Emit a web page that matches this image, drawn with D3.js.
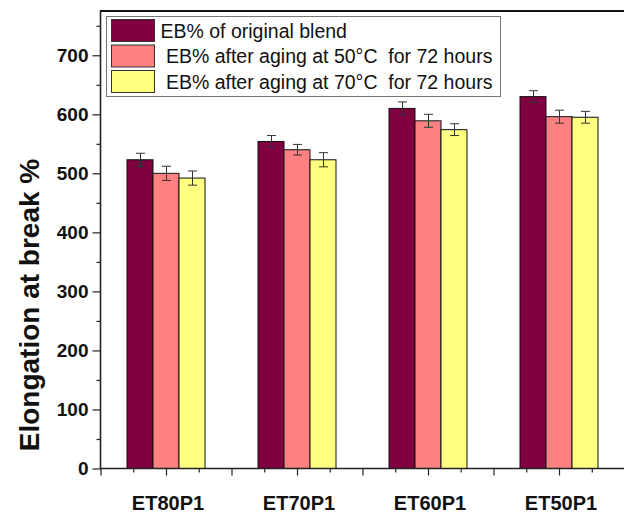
<!DOCTYPE html>
<html>
<head>
<meta charset="utf-8">
<script src="https://cdn.jsdelivr.net/npm/d3@7/dist/d3.min.js"></script>
<style>
  html, body { margin: 0; padding: 0; background: #fff; }
  svg { display: block; font-family: "Liberation Sans", Arial, sans-serif; }
</style>
</head>
<body>
<svg id="chart" width="624" height="513"></svg>
<script>
// Blend samples on the x axis
const categories = ["ET80P1", "ET70P1", "ET60P1", "ET50P1"];

// Elongation at break (%) for each blend
const originalBlend = [523, 554, 610, 630];
const aged50 = [500, 540, 589, 596];
const aged70 = [492, 523, 574, 595];

// Error bar half-heights
const originalErr = [11, 10, 11, 10];
const aged50Err = [12, 9, 11, 11];
const aged70Err = [12, 12, 10, 10];

const seriesNames = [
  "EB% of original blend",
  " EB% after aging at 50°C  for 72 hours",
  " EB% after aging at 70°C  for 72 hours"
];
const seriesColors = ["#800040", "#ff8080", "#ffff80"];

const yTicks = [0, 100, 200, 300, 400, 500, 600, 700];

const series = [
  { name: seriesNames[0], color: seriesColors[0], values: originalBlend, err: originalErr },
  { name: seriesNames[1], color: seriesColors[1], values: aged50, err: aged50Err },
  { name: seriesNames[2], color: seriesColors[2], values: aged70, err: aged70Err }
];

const svg = d3.select("#chart");

const plot = { left: 100.5, right: 624.5, top: 11, bottom: 468.5 };

// Category positions 1..4 along a continuous axis running from 0.5 to 4.5
const x = d3.scaleLinear().domain([0.5, 4.5]).range([plot.left, plot.right]);
const y = d3.scaleLinear().domain([0, 775]).range([plot.bottom, plot.top]);
const sub = d3.scaleBand().domain(d3.range(series.length)).range([-39, 39]).padding(0);

// Bars
const groups = svg.append("g").selectAll("g")
  .data(series)
  .join("g");

groups.selectAll("rect")
  .data((s, si) => s.values.map((v, i) => ({ v, i, si, color: s.color })))
  .join("rect")
  .attr("x", d => x(d.i + 1) + sub(d.si))
  .attr("y", d => y(d.v))
  .attr("width", sub.bandwidth())
  .attr("height", d => y(0) - y(d.v))
  .attr("fill", d => d.color)
  .attr("stroke", "#111")
  .attr("stroke-width", 1);

// Error bars
const errG = svg.append("g").attr("stroke", "#333").attr("stroke-width", 1).attr("fill", "none");
series.forEach((s, si) => {
  s.values.forEach((v, i) => {
    const cx = Math.round(x(i + 1) + sub(si) + sub.bandwidth() / 2) + 0.5;
    const top = y(v + s.err[i]);
    const bot = y(v - s.err[i]);
    errG.append("line").attr("x1", cx).attr("x2", cx).attr("y1", top).attr("y2", bot);
    errG.append("line").attr("x1", cx - 4.5).attr("x2", cx + 4.5).attr("y1", top).attr("y2", top);
    errG.append("line").attr("x1", cx - 4.5).attr("x2", cx + 4.5).attr("y1", bot).attr("y2", bot);
  });
});

// Y axis: major ticks with labels, minor ticks halfway
const yAxis = svg.append("g").attr("transform", `translate(${plot.left},0)`)
  .call(d3.axisLeft(y).tickValues(yTicks).tickSize(8).tickPadding(4).tickFormat(d3.format("d")));
yAxis.select(".domain").remove();
yAxis.selectAll(".tick line").attr("stroke", "#222").attr("stroke-width", 1.2);
yAxis.selectAll(".tick text")
  .attr("font-size", 19).attr("font-weight", "bold").attr("fill", "#111")
  .attr("font-family", "Liberation Sans, Arial, sans-serif");

const yMinor = svg.append("g").attr("transform", `translate(${plot.left},0)`)
  .call(d3.axisLeft(y).tickValues(d3.range(50, 800, 100)).tickSize(4).tickFormat(""));
yMinor.select(".domain").remove();
yMinor.selectAll(".tick line").attr("stroke", "#222").attr("stroke-width", 1.2);

// X axis: major ticks every half category, minor ticks in between
const xMajor = svg.append("g").attr("transform", `translate(0,${plot.bottom})`)
  .call(d3.axisBottom(x).tickValues(d3.range(0.5, 4.51, 0.5)).tickSize(7).tickFormat(""));
xMajor.select(".domain").remove();
xMajor.selectAll(".tick line").attr("stroke", "#222").attr("stroke-width", 1.2);

const xMinor = svg.append("g").attr("transform", `translate(0,${plot.bottom})`)
  .call(d3.axisBottom(x).tickValues(d3.range(0.75, 4.5, 0.5)).tickSize(4).tickFormat(""));
xMinor.select(".domain").remove();
xMinor.selectAll(".tick line").attr("stroke", "#222").attr("stroke-width", 1.2);

// Category labels
svg.append("g").selectAll("text")
  .data(categories)
  .join("text")
  .attr("x", (d, i) => x(i + 1) + 2)
  .attr("y", 510)
  .attr("text-anchor", "middle")
  .attr("font-size", 20)
  .attr("font-weight", "bold")
  .attr("fill", "#111")
  .text(d => d);

// Frame lines: left axis, bottom axis, top border
svg.append("line").attr("x1", plot.left).attr("x2", plot.left).attr("y1", plot.top).attr("y2", plot.bottom + 0.5)
  .attr("stroke", "#222").attr("stroke-width", 1.6);
svg.append("line").attr("x1", plot.left - 0.5).attr("x2", plot.right).attr("y1", plot.bottom).attr("y2", plot.bottom)
  .attr("stroke", "#222").attr("stroke-width", 1.6);
svg.append("line").attr("x1", plot.left - 0.5).attr("x2", plot.right).attr("y1", plot.top).attr("y2", plot.top)
  .attr("stroke", "#111").attr("stroke-width", 2);

// Y axis title
svg.append("text")
  .attr("transform", "translate(39,305) rotate(-90)")
  .attr("text-anchor", "middle")
  .attr("font-size", 28)
  .attr("font-weight", "bold")
  .attr("fill", "#111")
  .text("Elongation at break %");

// Legend
const legend = svg.append("g");
legend.append("rect")
  .attr("x", 106.5).attr("y", 16.5).attr("width", 394).attr("height", 80)
  .attr("fill", "#fff").attr("stroke", "#777").attr("stroke-width", 1);
const items = legend.selectAll("g.item")
  .data(series)
  .join("g")
  .attr("class", "item")
  .attr("transform", (d, i) => `translate(111.5,${19.5 + i * 25.5})`);
items.append("rect")
  .attr("width", 43).attr("height", 22)
  .attr("fill", d => d.color).attr("stroke", "#333").attr("stroke-width", 1);
items.append("text")
  .attr("x", 49).attr("y", 18)
  .attr("font-size", 19.5)
  .attr("fill", "#111")
  .style("white-space", "pre")
  .text(d => d.name);
</script>
</body>
</html>
